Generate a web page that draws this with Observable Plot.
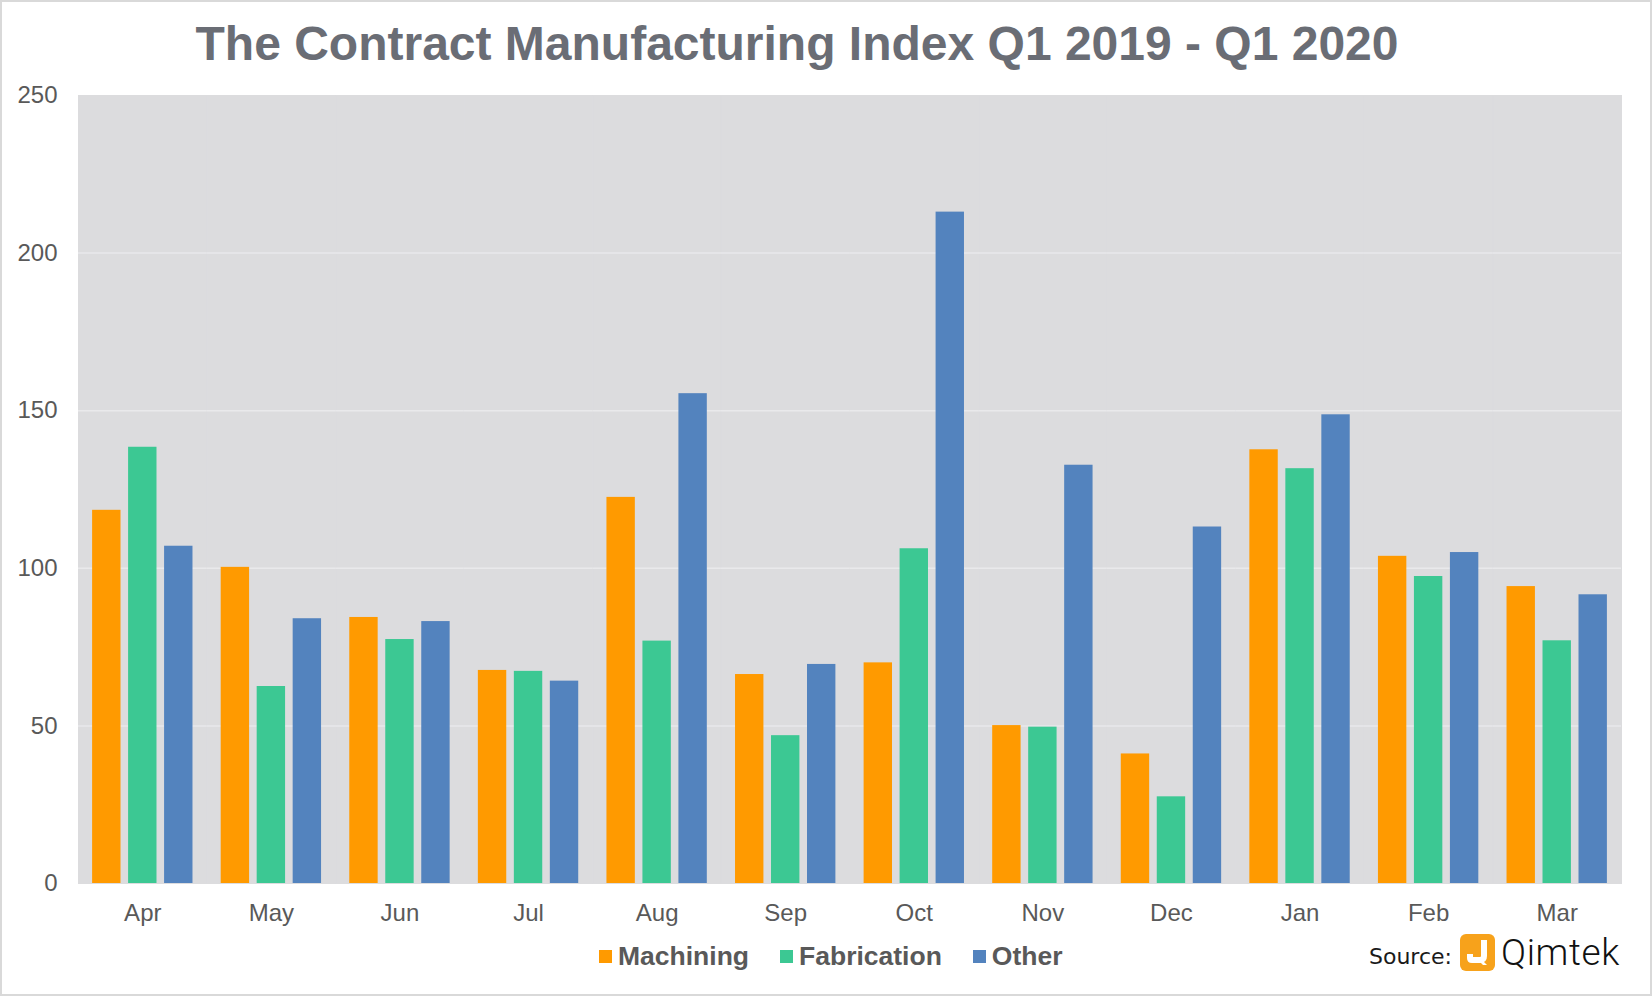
<!DOCTYPE html>
<html>
<head>
<meta charset="utf-8">
<script src="https://cdn.jsdelivr.net/npm/d3@7"></script>
<script src="https://cdn.jsdelivr.net/npm/@observablehq/plot@0.6"></script>
<style>
  html, body { margin: 0; padding: 0; background: #ffffff; }
  #page { position: relative; width: 1652px; height: 996px; background: #ffffff; overflow: hidden;
          font-family: "Liberation Sans", Arial, sans-serif; }
  #border { position: absolute; left: 0; top: 0; width: 1652px; height: 996px; box-sizing: border-box;
            border: 2px solid #d9d9d9; pointer-events: none; }
  #title { position: absolute; left: 0; top: 12px; width: 1594px; text-align: center;
           font-size: 48px; font-weight: bold; color: #6a6d75; line-height: 64px; }
  #chart { position: absolute; left: 0; top: 80px; }
  #legend { position: absolute; left: 599px; top: 938px; height: 36px; display: flex; align-items: center;
            font-size: 26.5px; font-weight: bold; color: #595959; }
  .item { display: flex; align-items: center; margin-right: 31px; }
  .sw { width: 13px; height: 13px; margin-right: 6px; }
  #source { position: absolute; left: 1369px; top: 930px; height: 44px; display: flex; align-items: center; }
  #source .lbl { font-family: "DejaVu Sans", sans-serif; font-size: 22px; color: #1a1a1a; margin-right: 8px; margin-top: 8px; }
  #source .brand { font-family: Roboto, "Open Sans", sans-serif; font-weight: 300; font-size: 37px; color: #111; margin-left: 6px; letter-spacing: 0.6px; }
</style>
</head>
<body>
<div id="page">
  <div id="title">The Contract Manufacturing Index Q1 2019 - Q1 2020</div>
  <div id="chart"></div>
  <div id="legend"></div>
  <div id="source">
    <span class="lbl">Source:</span>
    <svg width="35" height="37" viewBox="0 0 35 37">
      <rect x="0" y="0" width="35" height="37" rx="6" ry="6" fill="#f7a21b"></rect>
      <path d="M21 6 L27 6 L27 22 Q27 29 20 29 L12 29 Q7 29 7 24 L7 20 L13 20 L13 23 L20 23 Q21 23 21 22 Z" fill="#ffffff"></path>
      <path d="M17 25 L23 31 L27 31 L21 25 Z" fill="#ffffff"></path>
    </svg>
    <span class="brand">Qimtek</span>
  </div>
  <div id="border"></div>
</div>
<script>
// ---- data ----
const months = ["Apr","May","Jun","Jul","Aug","Sep","Oct","Nov","Dec","Jan","Feb","Mar"];
const seriesNames = ["Machining","Fabrication","Other"];
const machining   = [118.4,100.3,84.4,67.6,122.5,66.3,70.0,50.1,41.1,137.6,103.8,94.2];
const fabrication = [138.4, 62.5,77.4,67.3, 76.9,46.9,106.2,49.6,27.5,131.6,97.4,77.0];
const other       = [107.0, 84.0,83.1,64.2,155.4,69.5,213.0,132.7,113.1,148.7,105.0,91.6];
const yTicks = [0,50,100,150,200,250];
const gridValues = [50,100,150,200];
const seriesColors = ["#ff9a00","#3cc893","#5383be"];

const valuesBySeries = [machining, fabrication, other];
const data = [];
months.forEach((m, i) => {
  seriesNames.forEach((s, j) => data.push({month: m, series: s, value: valuesBySeries[j][i]}));
});

const chart = Plot.plot({
  width: 1652,
  height: 860,
  marginLeft: 78,
  marginRight: 31,
  marginTop: 15,
  marginBottom: 57,
  style: {fontSize: "24px", fontFamily: "'Liberation Sans', Arial, sans-serif", color: "#595959", background: "transparent"},
  fx: {domain: months, padding: 0, round: false, axis: "bottom", tickSize: 0, tickPadding: 20, label: null},
  x: {domain: seriesNames, paddingInner: 0.211, paddingOuter: 0.392, round: false, axis: null},
  y: {domain: [0, 250], ticks: yTicks, tickSize: 0, tickPadding: 21, label: null},
  color: {domain: seriesNames, range: seriesColors},
  marks: [
    Plot.frame({fill: "#dcdcde", stroke: "#dcdcde", strokeWidth: 1}),
    Plot.ruleY(gridValues, {stroke: "#e9e9eb", strokeWidth: 1.5}),
    Plot.barY(data, {fx: "month", x: "series", y: "value", fill: "series"})
  ]
});
document.getElementById("chart").appendChild(chart);

// legend
const legend = document.getElementById("legend");
seriesNames.forEach((s, i) => {
  const item = document.createElement("div");
  item.className = "item";
  const sw = document.createElement("div");
  sw.className = "sw";
  sw.style.background = seriesColors[i];
  const t = document.createElement("span");
  t.textContent = s;
  item.appendChild(sw);
  item.appendChild(t);
  legend.appendChild(item);
});
</script>
</body>
</html>
